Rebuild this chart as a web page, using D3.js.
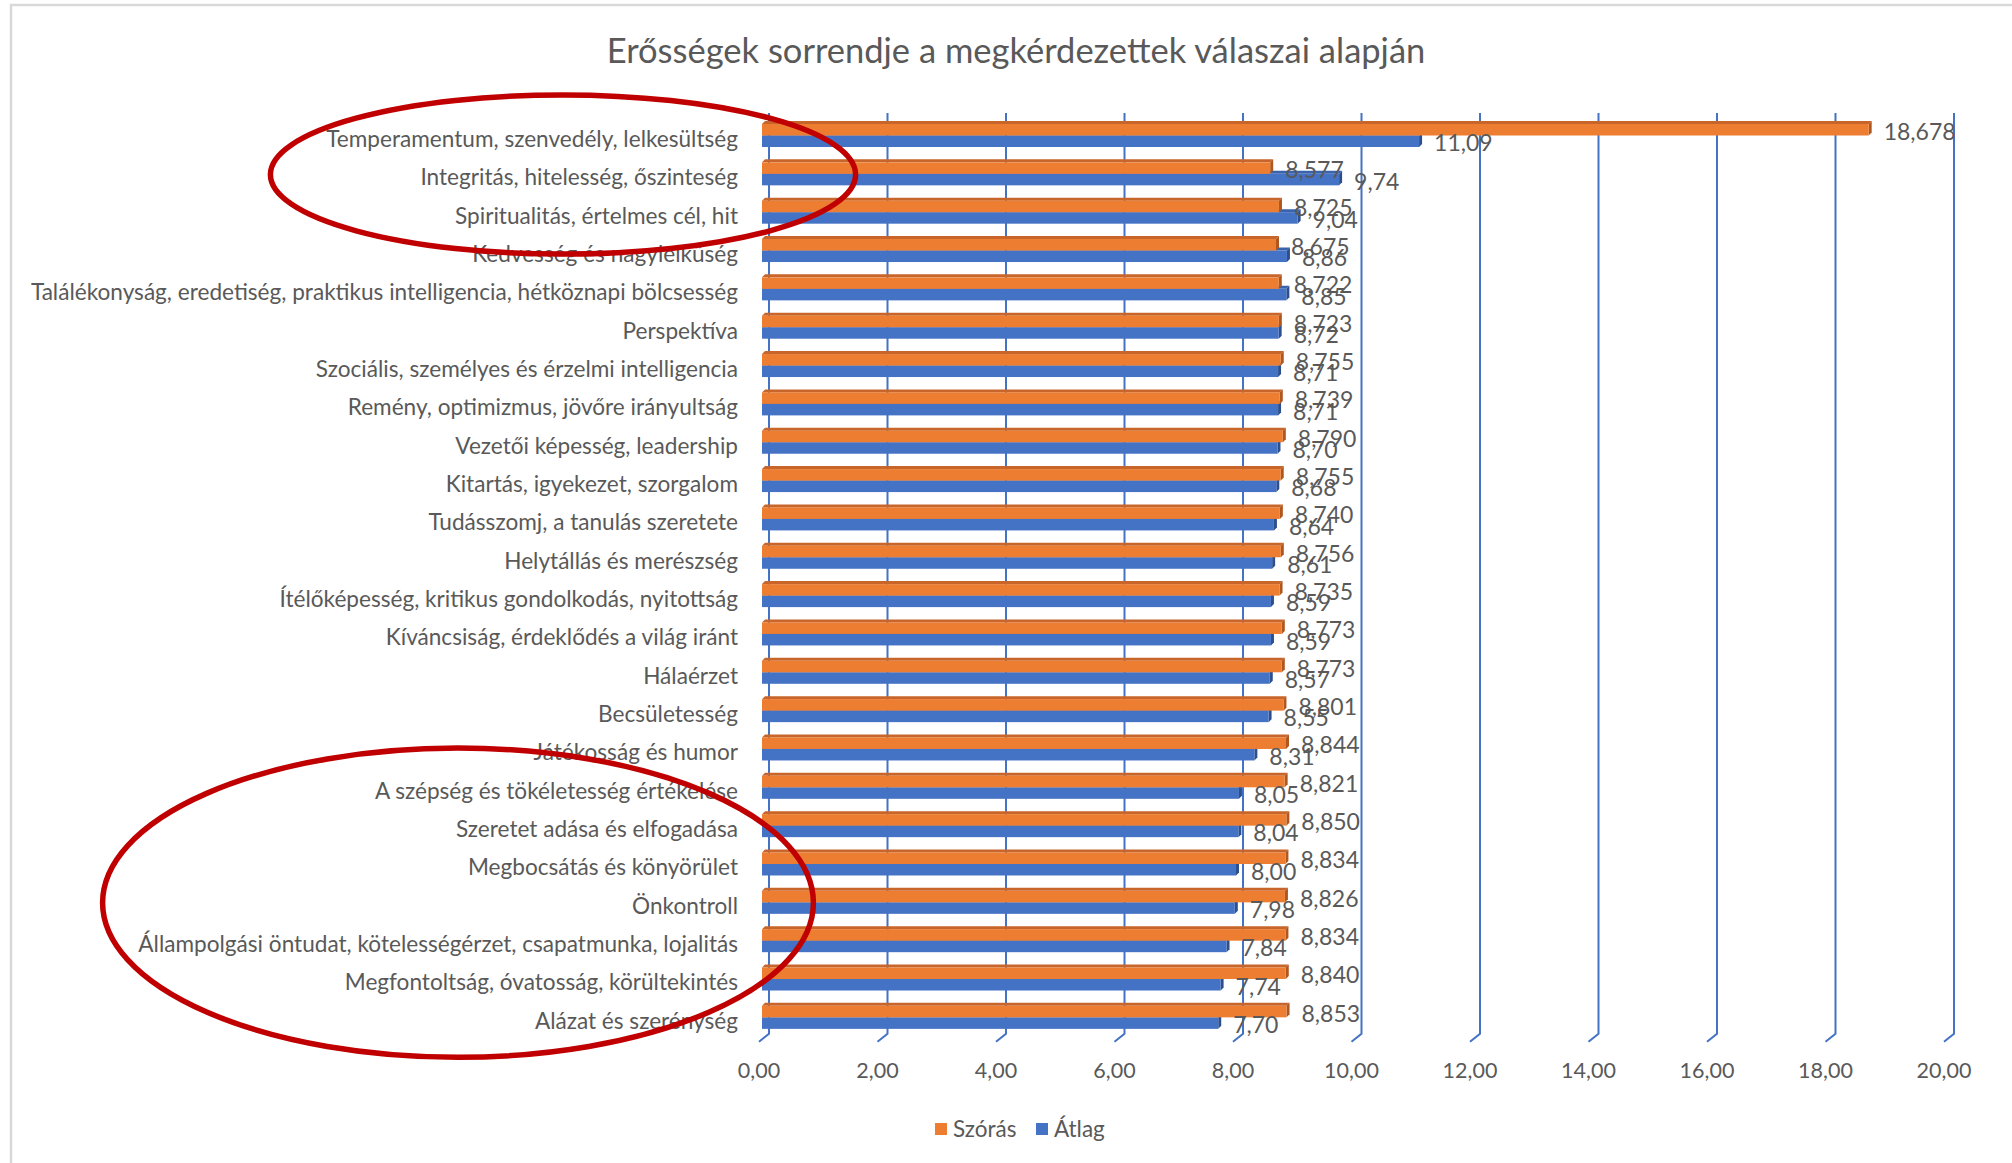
<!DOCTYPE html>
<html>
<head>
<meta charset="utf-8">
<script src="https://cdn.jsdelivr.net/npm/d3@7"></script>
<style>
  html, body { margin: 0; padding: 0; background: #fff; }
  svg text { font-family: Lato, "Open Sans", sans-serif; fill: #595959; }
</style>
</head>
<body>
<svg id="chart" width="2012" height="1163"></svg>
<script>
// categories, top to bottom
var categories = [
    'Temperamentum, szenvedély, lelkesültség',
    'Integritás, hitelesség, őszinteség',
    'Spiritualitás, értelmes cél, hit',
    'Kedvesség és nagylelkűség',
    'Találékonyság, eredetiség, praktikus intelligencia, hétköznapi bölcsesség',
    'Perspektíva',
    'Szociális, személyes és érzelmi intelligencia',
    'Remény, optimizmus, jövőre irányultság',
    'Vezetői képesség, leadership',
    'Kitartás, igyekezet, szorgalom',
    'Tudásszomj, a tanulás szeretete',
    'Helytállás és merészség',
    'Ítélőképesség, kritikus gondolkodás, nyitottság',
    'Kíváncsiság, érdeklődés a világ iránt',
    'Hálaérzet',
    'Becsületesség',
    'Játékosság és humor',
    'A szépség és tökéletesség értékelése',
    'Szeretet adása és elfogadása',
    'Megbocsátás és könyörület',
    'Önkontroll',
    'Állampolgási öntudat, kötelességérzet, csapatmunka, lojalitás',
    'Megfontoltság, óvatosság, körültekintés',
    'Alázat és szerénység'
];
var szoras = [18.678, 8.577, 8.725, 8.675, 8.722, 8.723, 8.755, 8.739, 8.790, 8.755, 8.740, 8.756,
              8.735, 8.773, 8.773, 8.801, 8.844, 8.821, 8.850, 8.834, 8.826, 8.834, 8.840, 8.853];
var atlag  = [11.09, 9.74, 9.04, 8.86, 8.85, 8.72, 8.71, 8.71, 8.70, 8.68, 8.64, 8.61,
              8.59, 8.59, 8.57, 8.55, 8.31, 8.05, 8.04, 8.00, 7.98, 7.84, 7.74, 7.70];
var xTicks = [0, 2, 4, 6, 8, 10, 12, 14, 16, 18, 20];
var seriesNames = ['Szórás', 'Átlag'];
var title = 'Erősségek sorrendje a megkérdezettek válaszai alapján';

(function(){
    'use strict';

    var svg = d3.select('#chart'),
        ORANGE = '#ED7D31',
        BLUE = '#4472C4',
        depth = 3,
        top = 113, bottom = 1033.2,
        fmt2 = function( v ){ return d3.format('.2f')( v ).replace('.', ','); },
        fmt3 = function( v ){ return d3.format('.3f')( v ).replace('.', ','); };

    // back wall scale (gridlines), bar scale (mid depth), front scale (floor edge / tick labels)
    var xBack = d3.scaleLinear().domain([0, 20]).range([769, 1954]),
        xBar = d3.scaleLinear().domain([0, 20]).range([762, 1947]),
        xFront = d3.scaleLinear().domain([0, 20]).range([759, 1944]),
        y = d3.scaleBand().domain( categories ).range([top, bottom]);

    // chart border
    svg.append('path')
        .attr('d', 'M11,1163 V5 H2012')
        .attr('fill', 'none')
        .attr('stroke', '#d9d9d9')
        .attr('stroke-width', 2.5);

    svg.append('text')
        .attr('x', 1016).attr('y', 51)
        .attr('dy', '0.35em')
        .attr('text-anchor', 'middle')
        .style('font-size', '34.5px')
        .text( title );

    // gridlines with the floor foot
    svg.append('g').selectAll('path')
        .data( xTicks )
        .join('path')
        .attr('d', function( d ){
            return 'M' + xBack(d) + ',' + top + ' V' + (bottom + 0.5) +
                ' L' + xFront(d) + ',' + (bottom + 8.5);
        })
        .attr('fill', 'none')
        .attr('stroke', BLUE)
        .attr('stroke-width', 2);

    svg.append('g').selectAll('text')
        .data( xTicks )
        .join('text')
        .attr('x', function( d ){ return xFront(d); })
        .attr('y', 1070)
        .attr('dy', '0.35em')
        .attr('text-anchor', 'middle')
        .style('font-size', '21.5px')
        .text( fmt2 );

    // category labels
    svg.append('g').selectAll('text')
        .data( categories )
        .join('text')
        .attr('x', 738)
        .attr('y', function( d ){ return y(d) + 26; })
        .attr('dy', '0.35em')
        .attr('text-anchor', 'end')
        .style('font-size', '22.6px')
        .text(function( d ){ return d; });

    function drawBars( values, offset, front, topFace, side ){
        var h = 11.5,
            g = svg.append('g'),
            rows = g.selectAll('g').data( values ).join('g');

        rows.append('path')
            .attr('fill', topFace)
            .attr('d', function( v, i ){
                var y0 = y(categories[i]) + offset, x0 = xBar(0), x1 = xBar(v);
                return 'M' + x0 + ',' + y0 + ' L' + (x0 + depth) + ',' + (y0 - depth) +
                    ' L' + (x1 + depth) + ',' + (y0 - depth) + ' L' + x1 + ',' + y0 + 'Z';
            });
        rows.append('path')
            .attr('fill', side)
            .attr('d', function( v, i ){
                var y0 = y(categories[i]) + offset, x1 = xBar(v);
                return 'M' + x1 + ',' + y0 + ' L' + (x1 + depth) + ',' + (y0 - depth) +
                    ' L' + (x1 + depth) + ',' + (y0 + h - depth) + ' L' + x1 + ',' + (y0 + h) + 'Z';
            });
        rows.append('rect')
            .attr('fill', front)
            .attr('x', xBar(0))
            .attr('y', function( v, i ){ return y(categories[i]) + offset; })
            .attr('width', function( v ){ return xBar(v) - xBar(0); })
            .attr('height', h);
        return h;
    }

    drawBars( atlag, 22.5, BLUE, '#3A63AE', '#2C4F8E' );
    drawBars( szoras, 11, ORANGE, '#C8652A', '#B0561F' );

    // data labels
    svg.append('g').selectAll('text')
        .data( atlag )
        .join('text')
        .attr('x', function( v ){ return xBar(v) + 15; })
        .attr('y', function( v, i ){ return y(categories[i]) + 22.5 + 5.75 + 2; })
        .attr('dy', '0.35em')
        .style('font-size', '23px')
        .text( fmt2 );

    svg.append('g').selectAll('text')
        .data( szoras )
        .join('text')
        .attr('x', function( v ){ return xBar(v) + 15; })
        .attr('y', function( v, i ){ return y(categories[i]) + 11 + 5.75 + 2; })
        .attr('dy', '0.35em')
        .style('font-size', '23px')
        .text( fmt3 );

    // legend
    var legend = svg.append('g').selectAll('g')
        .data( seriesNames )
        .join('g')
        .attr('transform', function( d, i ){ return 'translate(' + (935 + i * 101) + ',1129)'; });
    legend.append('rect')
        .attr('x', 0).attr('y', -6)
        .attr('width', 12).attr('height', 12)
        .attr('fill', function( d, i ){ return i === 0 ? ORANGE : BLUE; });
    legend.append('text')
        .attr('x', 18).attr('dy', '0.35em')
        .style('font-size', '22.5px')
        .text(function( d ){ return d; });

    // red hand-drawn annotation ellipses
    svg.append('ellipse')
        .attr('cx', 563).attr('cy', 174.5).attr('rx', 292.6).attr('ry', 79.6)
        .attr('fill', 'none').attr('stroke', '#C00000').attr('stroke-width', 5.5);
    svg.append('ellipse')
        .attr('cx', 458).attr('cy', 902.7).attr('rx', 355.4).attr('ry', 154.6)
        .attr('fill', 'none').attr('stroke', '#C00000').attr('stroke-width', 5.5);
})();
</script>
</body>
</html>
